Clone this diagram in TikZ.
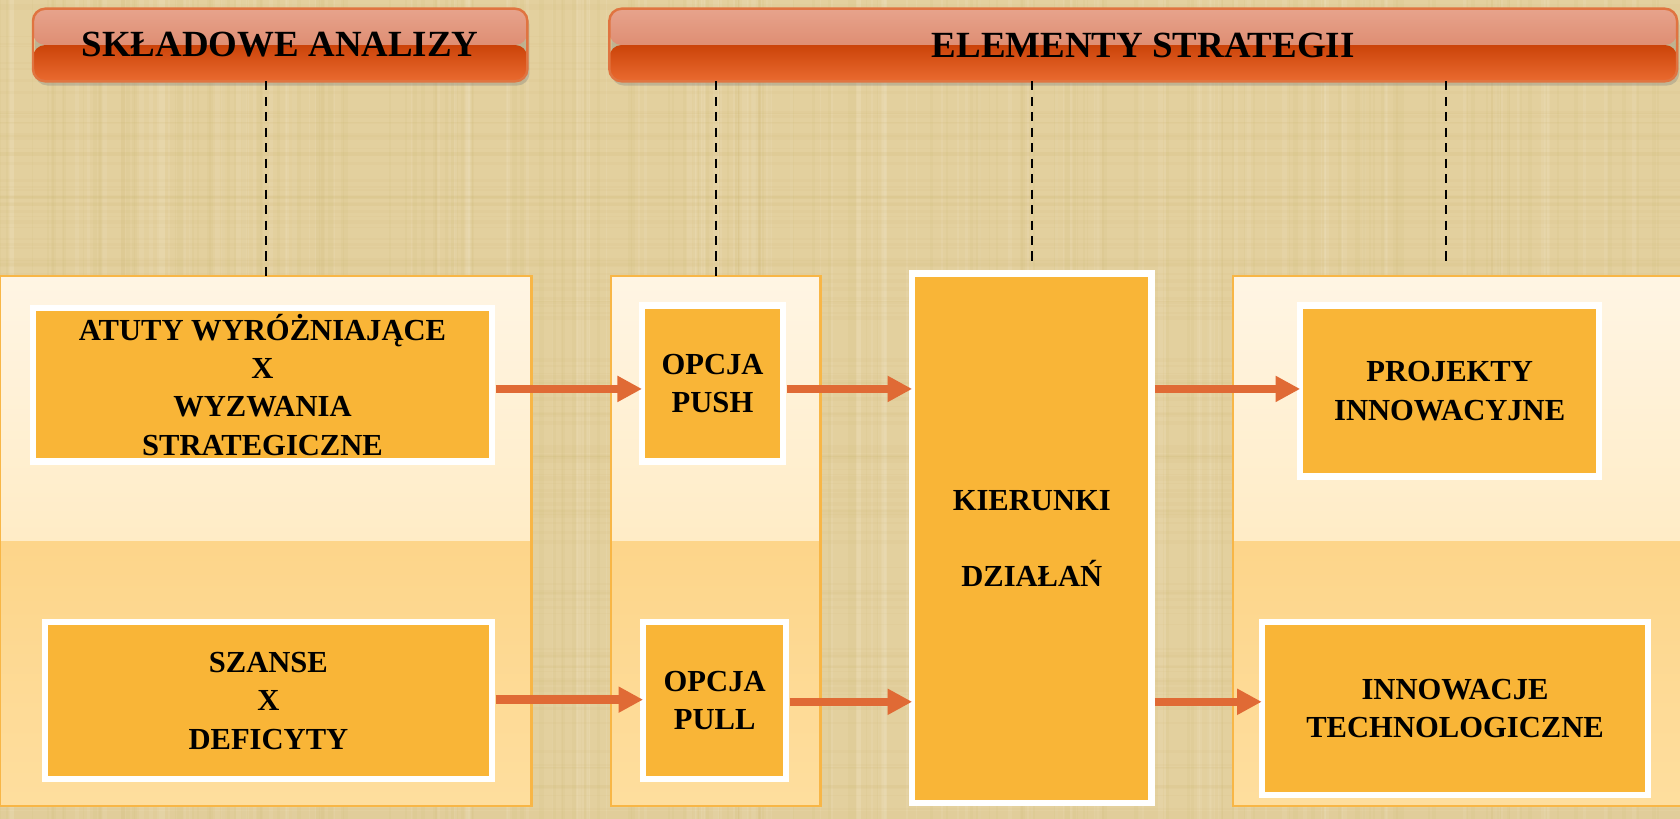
\documentclass[tikz,border=0pt]{standalone}
\usepackage{fontspec}
\setmainfont{Liberation Serif}
\usetikzlibrary{shadows,arrows.meta}
\definecolor{bgbase}{HTML}{E3D09E}
\definecolor{bgdark}{HTML}{CDB56E}
\definecolor{bglight}{HTML}{F2E6C6}
\definecolor{hA}{HTML}{E7A38C}
\definecolor{hB}{HTML}{D6795A}
\definecolor{hC}{HTML}{CB4309}
\definecolor{hD}{HTML}{EA6B30}
\definecolor{hline}{HTML}{E07440}
\definecolor{pA}{HTML}{FFF5E4}
\definecolor{pB}{HTML}{FEE3A8}
\definecolor{pC}{HTML}{FDD58A}
\definecolor{pD}{HTML}{FEDE9E}
\definecolor{pline}{HTML}{F8B646}
\definecolor{boxfill}{HTML}{F9B537}
\definecolor{arrowc}{HTML}{E06A35}
\tikzset{
  sz/.style 2 args={minimum width={#1*0.30372pt}, minimum height={#2*0.30372pt}, inner sep=0pt, outer sep=0pt},
  header/.style={rectangle, rounded corners=3.5pt, draw=hline, line width=0.7pt,
    font=\fontsize{10.5}{12}\selectfont\bfseries,
    drop shadow={opacity=0.35, shadow xshift=0.6pt, shadow yshift=-1.2pt},
    path picture={
      \shade[top color=hA, bottom color=hB] (path picture bounding box.north west) rectangle (path picture bounding box.east);
      \shade[top color=hC, bottom color=hD] (path picture bounding box.west) rectangle (path picture bounding box.south east);
    }},
  panel/.style={rectangle, draw=pline, line width=0.7pt,
    path picture={
      \shade[top color=pA, bottom color=pB] (path picture bounding box.north west) rectangle (path picture bounding box.east);
      \shade[top color=pC, bottom color=pD] (path picture bounding box.west) rectangle (path picture bounding box.south east);
    }},
  item/.style={rectangle, fill=boxfill, draw=white, line width=1.8pt, align=center,
    font=\fontsize{8.7}{10.9}\selectfont\bfseries,
    drop shadow={opacity=0.2, shadow xshift=0.6pt, shadow yshift=-0.9pt}},
  flow/.style={draw=arrowc, line width=2.4pt, -{Triangle[width=7pt,length=7pt]}},
  dashline/.style={draw=black, line width=0.55pt, dash pattern=on 2.6pt off 1.8pt},
}
\begin{document}
\begin{tikzpicture}[x=0.010714cm, y=-0.010714cm]
  % background
  \fill[bgbase] (0,0) rectangle (1568,764);
  \useasboundingbox (0,0) rectangle (1568,764);
  \pgfmathsetseed{7}
  \begin{scope}
    \clip (0,0) rectangle (1568,764);
    \foreach \i in {1,...,160}{
      \pgfmathsetmacro\xx{rnd*1568}
      \pgfmathsetmacro\ww{0.2+rnd*1.2}
      \draw[bgdark, opacity=0.10, line width=\ww pt] (\xx,0) -- (\xx,764);
    }
    \foreach \i in {1,...,120}{
      \pgfmathsetmacro\xx{rnd*1568}
      \pgfmathsetmacro\ww{0.2+rnd*1.5}
      \draw[bglight, opacity=0.18, line width=\ww pt] (\xx,0) -- (\xx,764);
    }
    \foreach \i in {1,...,120}{
      \pgfmathsetmacro\yy{rnd*764}
      \pgfmathsetmacro\ww{0.2+rnd*1.0}
      \draw[bgdark, opacity=0.08, line width=\ww pt] (0,\yy) -- (1568,\yy);
    }
  \end{scope}

  % headers
  \node[header, sz={463}{68}] (hA) at (261.5,42) {SKŁADOWE ANALIZY};
  \node[header, sz={1000}{68}] (hB) at (1067,42) {ELEMENTY STRATEGII};

  % panels
  \node[panel, sz={498}{496}] (pL) at (248,505) {};
  \node[panel, sz={196}{496}] (pM) at (668,505) {};
  \node[panel, sz={430}{496}] (pR) at (1365,505) {};

  % items
  \node[item, sz={430}{144}] (atuty) at (245,359) {ATUTY WYRÓŻNIAJĄCE\\X\\WYZWANIA\\STRATEGICZNE};
  \node[item, sz={419}{147}] (szanse) at (250.5,654) {SZANSE\\X\\DEFICYTY};
  \node[item, sz={132}{146}] (push) at (665,358) {OPCJA\\PUSH};
  \node[item, sz={134}{147}] (pull) at (667,654) {OPCJA\\PULL};
  \node[item, sz={224}{496}] (kier) at (963,502.5) {KIERUNKI\\[10.9pt]DZIAŁAŃ};
  \node[item, sz={280}{160}] (proj) at (1353,365) {PROJEKTY\\INNOWACYJNE};
  \node[item, sz={362}{162}] (innow) at (1358,661) {INNOWACJE\\TECHNOLOGICZNE};

  % dashed connectors
  \coordinate (d4) at (1350,249);
  \draw[dashline] (pL.north |- hA.south) -- (pL.north);
  \draw[dashline] (pM.north |- hB.south) -- (pM.north);
  \draw[dashline] (kier.north |- hB.south) -- ([yshift=2pt]kier.north);
  \draw[dashline] (d4 |- hB.south) -- (d4);

  % flow arrows
  \draw[flow] ([xshift=1pt]atuty.east |- 0,363) -- (push.west |- 0,363);
  \draw[flow] ([xshift=1pt]push.east |- 0,363) -- (kier.west |- 0,363);
  \draw[flow] ([xshift=1pt]kier.east |- 0,363) -- (proj.west |- 0,363);
  \draw[flow] ([xshift=1pt]szanse.east |- 0,653) -- (pull.west |- 0,653);
  \draw[flow] ([xshift=1pt]pull.east |- 0,655) -- (kier.west |- 0,655);
  \draw[flow] ([xshift=1pt]kier.east |- 0,655) -- (innow.west |- 0,655);
\end{tikzpicture}
\end{document}
